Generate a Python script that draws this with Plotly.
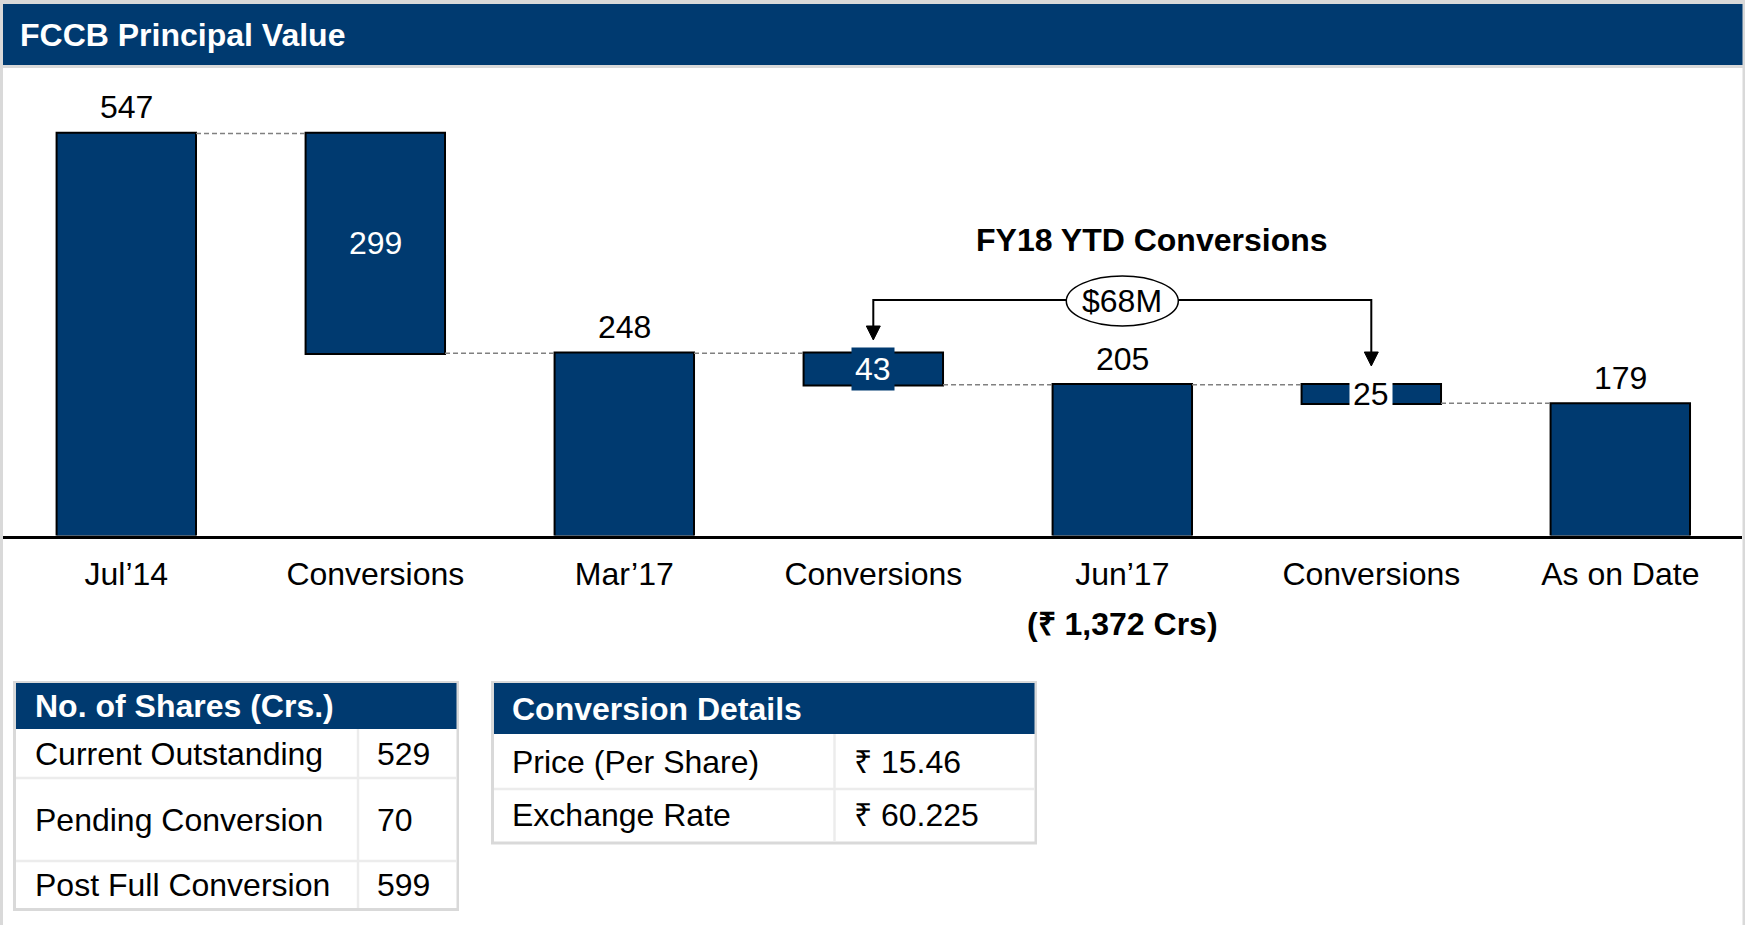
import plotly.graph_objects as go

# ---------------- data ----------------
categories = ["Jul’14", "Conversions", "Mar’17", "Conversions", "Jun’17", "Conversions", "As on Date"]
measures = ["absolute", "relative", "absolute", "relative", "absolute", "relative", "absolute"]
values = [547, -299, 248, -43, 205, -25, 179]
bar_labels = ["547", "299", "248", "43", "205", "25", "179"]

chart_title = "FCCB Principal Value"
ytd_title = "FY18 YTD Conversions"
ytd_amount = "$68M"
jun_note = "(₹ 1,372 Crs)"

shares_title = "No. of Shares (Crs.)"
shares_rows = ["Current Outstanding", "Pending Conversion", "Post Full Conversion"]
shares_vals = ["529", "70", "599"]

conv_title = "Conversion Details"
conv_rows = ["Price (Per Share)", "Exchange Rate"]
conv_vals = ["₹ 15.46", "₹ 60.225"]

# ---------------- style ----------------
W, H = 1745, 925
NAVY = "#003A70"
GRAY_BORDER = "#d9d9d9"
SEP = "#ececec"
FONT = "Liberation Sans, Arial, Helvetica, sans-serif"
FS = 32

AXIS_Y = 535.5          # pixel position of the category axis
PX_PER_UNIT = 0.735
PLOT_TOP = 70
YMAX = (AXIS_Y - PLOT_TOP) / PX_PER_UNIT

X0_PX, X1_PX = 3, 1742
CAT0_PX, CAT_STEP = 126.3, 249.0
xr0 = -(CAT0_PX - X0_PX) / CAT_STEP
xr1 = xr0 + (X1_PX - X0_PX) / CAT_STEP


def px(x):
    return x / W


def py(y):
    return 1 - y / H


x_idx = list(range(len(categories)))

# running levels of the waterfall (for label placement)
starts, ends = [], []
level = 0
for m, v in zip(measures, values):
    if m == "absolute":
        starts.append(0)
        level = v
    else:
        starts.append(level)
        level += v
    ends.append(level)

bar_style = dict(marker=dict(color=NAVY, line=dict(color="black", width=2)))

fig = go.Figure()
fig.add_trace(go.Waterfall(
    x=x_idx, y=values, measure=measures,
    increasing=bar_style, decreasing=bar_style, totals=bar_style,
    connector=dict(mode="between", line=dict(color="#808080", width=1.5, dash="5px,3px")),
    textposition="none", hoverinfo="skip", showlegend=False,
))

annotations = []
shapes = []

# ---- bar labels ----
delta_styles = {
    1: dict(font_color="white", bg=None),
    3: dict(font_color="white", bg=NAVY),
    5: dict(font_color="black", bg="white"),
}
for i, (m, lab) in enumerate(zip(measures, bar_labels)):
    if m == "absolute":
        annotations.append(dict(x=i, y=ends[i], xref="x", yref="y", text=lab, showarrow=False,
                                yanchor="middle", yshift=26,
                                font=dict(family=FONT, size=FS, color="black")))
    else:
        st = delta_styles[i]
        a = dict(x=i, y=(starts[i] + ends[i]) / 2, xref="x", yref="y", text=lab, showarrow=False,
                 yanchor="middle", font=dict(family=FONT, size=FS, color=st["font_color"]))
        if st["bg"]:
            a.update(bgcolor=st["bg"], borderpad=3)
        annotations.append(a)

# ---- frame / header ----
shapes.append(dict(type="rect", xref="paper", yref="paper", x0=px(0), x1=px(W), y0=py(68), y1=py(0),
                   fillcolor=GRAY_BORDER, line=dict(width=0), layer="below"))
shapes.append(dict(type="rect", xref="paper", yref="paper", x0=px(3), x1=px(1743), y0=py(65), y1=py(4),
                   fillcolor=NAVY, line=dict(width=0), layer="below"))
shapes.append(dict(type="rect", xref="paper", yref="paper", x0=px(0), x1=px(3), y0=py(H), y1=py(0),
                   fillcolor=GRAY_BORDER, line=dict(width=0), layer="above"))
shapes.append(dict(type="rect", xref="paper", yref="paper", x0=px(1742.5), x1=px(W), y0=py(H), y1=py(0),
                   fillcolor=GRAY_BORDER, line=dict(width=0), layer="above"))
annotations.append(dict(x=px(18), y=py(35), xref="paper", yref="paper", xanchor="left", yanchor="middle",
                        text=f"<b>{chart_title}</b>", showarrow=False,
                        font=dict(family=FONT, size=FS, color="white")))

# ---- FY18 YTD bracket ----
dx_head = 7 / CAT_STEP
i_a, i_b = 3, 5
shapes.append(dict(type="path", xref="x", yref="paper",
                   path=f"M {i_a},{py(327)} L {i_a},{py(300)} L {i_b},{py(300)} L {i_b},{py(353)}",
                   line=dict(color="black", width=2), layer="above"))
shapes.append(dict(type="path", xref="x", yref="paper",
                   path=f"M {i_a - dx_head},{py(326)} L {i_a + dx_head},{py(326)} L {i_a},{py(340)} Z",
                   fillcolor="black", line=dict(color="black", width=1), layer="above"))
shapes.append(dict(type="path", xref="x", yref="paper",
                   path=f"M {i_b - dx_head},{py(352)} L {i_b + dx_head},{py(352)} L {i_b},{py(366)} Z",
                   fillcolor="black", line=dict(color="black", width=1), layer="above"))
ell_half = 56 / CAT_STEP
shapes.append(dict(type="circle", xref="x", yref="paper", x0=4 - ell_half, x1=4 + ell_half,
                   y0=py(326), y1=py(276), fillcolor="white", line=dict(color="black", width=1.5),
                   layer="above"))
annotations.append(dict(x=4, y=py(301), xref="x", yref="paper", text=ytd_amount, showarrow=False,
                        yanchor="middle", font=dict(family=FONT, size=FS, color="black")))
annotations.append(dict(x=px(1152), y=py(240), xref="paper", yref="paper", text=f"<b>{ytd_title}</b>",
                        showarrow=False, yanchor="middle", font=dict(family=FONT, size=FS, color="black")))
annotations.append(dict(x=4, y=py(624), xref="x", yref="paper", text=f"<b>{jun_note}</b>",
                        showarrow=False, yanchor="middle", font=dict(family=FONT, size=FS, color="black")))


# ---- tables ----
def add_table(x0, x1, xcol, top, head_bottom, row_bounds, title, rows, vals, text_x, val_x, head_y):
    bottom = row_bounds[-1]
    shapes.append(dict(type="rect", xref="paper", yref="paper", x0=px(x0), x1=px(x1),
                       y0=py(bottom + 3), y1=py(top), fillcolor=GRAY_BORDER, line=dict(width=0)))
    shapes.append(dict(type="rect", xref="paper", yref="paper", x0=px(x0 + 3), x1=px(x1 - 2.5),
                       y0=py(bottom), y1=py(head_bottom), fillcolor="white", line=dict(width=0)))
    shapes.append(dict(type="rect", xref="paper", yref="paper", x0=px(x0 + 3), x1=px(x1 - 2.5),
                       y0=py(head_bottom), y1=py(top + 2), fillcolor=NAVY, line=dict(width=0)))
    for yb in row_bounds[:-1]:
        shapes.append(dict(type="line", xref="paper", yref="paper", x0=px(x0 + 3), x1=px(x1 - 2.5),
                           y0=py(yb), y1=py(yb), line=dict(color=SEP, width=2.5)))
    shapes.append(dict(type="line", xref="paper", yref="paper", x0=px(xcol), x1=px(xcol),
                       y0=py(head_bottom), y1=py(bottom), line=dict(color=SEP, width=2.5)))
    annotations.append(dict(x=px(text_x), y=py(head_y), xref="paper", yref="paper", xanchor="left",
                            yanchor="middle", text=f"<b>{title}</b>", showarrow=False,
                            font=dict(family=FONT, size=FS, color="white")))
    prev = head_bottom
    for lab, val, yb in zip(rows, vals, row_bounds):
        yc = (prev + yb) / 2
        annotations.append(dict(x=px(text_x), y=py(yc), xref="paper", yref="paper", xanchor="left",
                                yanchor="middle", text=lab, showarrow=False,
                                font=dict(family=FONT, size=FS, color="black")))
        annotations.append(dict(x=px(val_x), y=py(yc), xref="paper", yref="paper", xanchor="left",
                                yanchor="middle", text=val, showarrow=False,
                                font=dict(family=FONT, size=FS, color="black")))
        prev = yb


add_table(13, 459, 358, 681, 729, [778, 861, 908], shares_title, shares_rows, shares_vals,
          33, 375, 706)
add_table(491, 1037, 834.5, 681, 734, [789, 841.5], conv_title, conv_rows, conv_vals,
          510, 852, 709)

fig.update_layout(
    width=W, height=H,
    margin=dict(l=0, r=0, t=0, b=0, autoexpand=False),
    paper_bgcolor="white", plot_bgcolor="white",
    showlegend=False,
    waterfallgap=0.44,
    font=dict(family=FONT, size=FS, color="black"),
    xaxis=dict(domain=[px(X0_PX), px(X1_PX)], range=[xr0, xr1], tickmode="array",
               tickvals=x_idx, ticktext=categories, showline=True, linecolor="black", linewidth=2.5,
               showgrid=False, zeroline=False, ticks="", ticklabelstandoff=8,
               tickfont=dict(family=FONT, size=FS, color="black"), fixedrange=True),
    yaxis=dict(domain=[py(AXIS_Y), py(PLOT_TOP)], range=[0, YMAX], visible=False, fixedrange=True),
    shapes=shapes,
    annotations=annotations,
)

fig.write_html(
    "out.html",
    config={"displayModeBar": False},
    post_script="document.body.style.margin='0';document.body.style.overflow='hidden';",
)
